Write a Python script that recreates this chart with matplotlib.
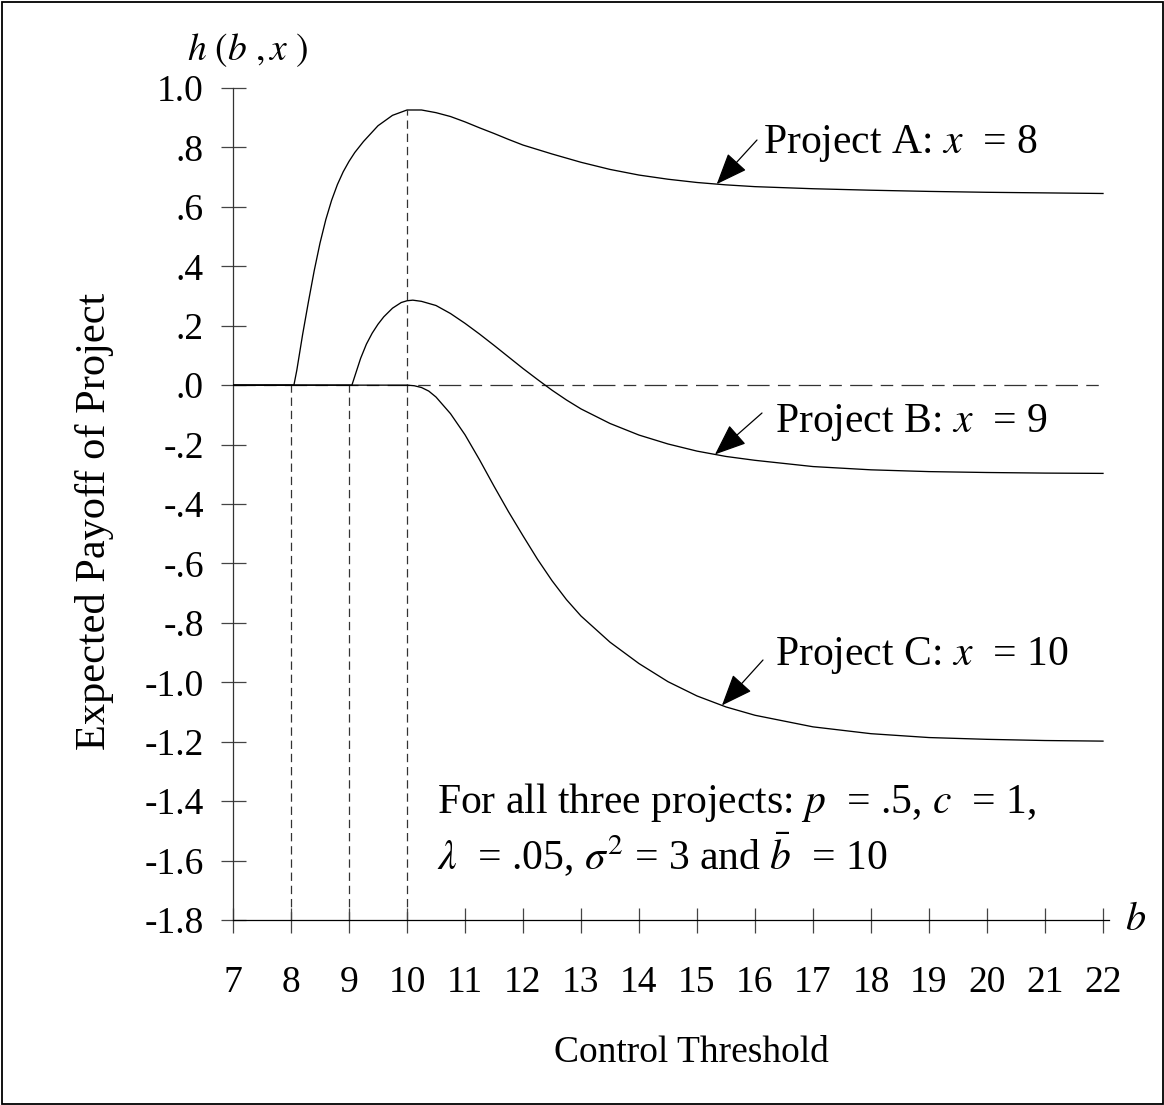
import matplotlib
matplotlib.use("Agg")
import matplotlib.pyplot as plt
import numpy as np
from matplotlib.patches import Rectangle

plt.rcParams['font.family'] = ['Liberation Serif', 'DejaVu Serif']
plt.rcParams['mathtext.fontset'] = 'stix'
plt.rcParams['lines.scale_dashes'] = False

# ---------------- data ----------------
b_A = [7, 8.05, 8.1, 8.2, 8.3, 8.4, 8.5, 8.6, 8.7, 8.8, 8.9, 9.0, 9.1, 9.25, 9.5, 9.75,
       10.0, 10.25, 10.5, 10.75, 11.0, 11.25, 11.5, 11.75, 12.0, 12.5, 13.0, 13.5,
       14.0, 14.5, 15.0, 15.5, 16, 17, 18, 19, 20, 21, 22]
h_A = [0, 0, 0.05, 0.17, 0.28, 0.385, 0.478, 0.557, 0.622, 0.675, 0.718, 0.753, 0.783,
       0.82, 0.873, 0.908, 0.926, 0.926, 0.917, 0.904, 0.886, 0.866, 0.847, 0.827,
       0.808, 0.778, 0.750, 0.726, 0.707, 0.693, 0.682, 0.674, 0.668, 0.661, 0.656,
       0.652, 0.649, 0.647, 0.645]

b_B = [7, 9.05, 9.1, 9.2, 9.3, 9.4, 9.5, 9.6, 9.75, 9.9, 10.0, 10.1, 10.25, 10.5,
       10.75, 11.0, 11.25, 11.5, 11.75, 12.0, 12.25, 12.5, 12.75, 13.0, 13.5, 14.0,
       14.5, 15.0, 15.5, 16, 17, 18, 19, 20, 21, 22]
h_B = [0, 0, 0.03, 0.09, 0.138, 0.175, 0.205, 0.23, 0.259, 0.278, 0.284, 0.286, 0.282,
       0.268, 0.241, 0.208, 0.172, 0.134, 0.095, 0.056, 0.019, -0.017, -0.050, -0.080,
       -0.129, -0.168, -0.198, -0.222, -0.240, -0.253, -0.274, -0.285, -0.291, -0.294,
       -0.296, -0.297]

b_C = [7, 10.0, 10.125, 10.25, 10.375, 10.5, 10.75, 11.0, 11.25, 11.5, 11.75, 12.0,
       12.25, 12.5, 12.75, 13.0, 13.5, 14.0, 14.5, 15.0, 15.5, 16, 17, 18, 19, 20, 21, 22]
h_C = [0, 0, -0.002, -0.008, -0.020, -0.040, -0.096, -0.167, -0.251, -0.340, -0.426,
       -0.507, -0.586, -0.658, -0.722, -0.777, -0.865, -0.937, -0.998, -1.046, -1.083,
       -1.111, -1.150, -1.173, -1.186, -1.192, -1.196, -1.198]

x_ticks = list(range(7, 23))
y_ticks = [1.0, 0.8, 0.6, 0.4, 0.2, 0.0, -0.2, -0.4, -0.6, -0.8, -1.0, -1.2, -1.4, -1.6, -1.8]
y_tick_labels = ["1.0", ".8", ".6", ".4", ".2", ".0", "-.2", "-.4", "-.6", "-.8",
                 "-1.0", "-1.2", "-1.4", "-1.6", "-1.8"]
drop_lines_b = [8, 9, 10]
labels = ["Project A: $x$  = 8", "Project B: $x$  = 9", "Project C: $x$  = 10"]
arrow_tip_b = [15.34, 15.31, 15.43]

# ---------------- layout helpers ----------------
W, H = 1164, 1105
def fx(px):
    return px / W
def fy(py):
    return 1 - py / H

fig = plt.figure(figsize=(W / 100, H / 100), dpi=100)
fig.patch.set_facecolor('white')
fig.add_artist(Rectangle((1.5 / W, 1.5 / H), 1 - 3 / W, 1 - 3 / H,
                         transform=fig.transFigure, fill=False, lw=1.3, ec='black'))

ax = fig.add_axes([fx(233), fy(920), 875.8 / W, 832 / H])
ax.set_xlim(7, 22.1)
ax.set_ylim(-1.8, 1.0)
for s in ['top', 'right']:
    ax.spines[s].set_visible(False)
ax.spines['left'].set_linewidth(0.9)
ax.spines['bottom'].set_linewidth(0.9)
ax.spines['left'].set_color('#333333')

ax.set_xticks(x_ticks)
ax.set_xticklabels([str(v) for v in x_ticks])
ax.set_yticks(y_ticks)
ax.set_yticklabels(y_tick_labels)
ax.tick_params(axis='both', direction='inout', length=18, width=0.9, color='#444444',
               labelsize=27)
ax.tick_params(axis='x', pad=24)
ax.tick_params(axis='y', pad=12)

# zero reference line
ax.hlines(0, x_ticks[0], x_ticks[-1], colors='#333333', lw=0.9,
          linestyles=[(0, (16, 6, 9, 6))], zorder=1)
# vertical dashed drop lines
tops = [0, 0, max(h_A)]
for bx, top in zip(drop_lines_b, tops):
    ax.vlines(bx, y_ticks[-1], top, colors='#333333', lw=0.9,
              linestyles=[(0, (6, 3.5))], zorder=1)

# curves
for bb, hh in [(b_A, h_A), (b_B, h_B), (b_C, h_C)]:
    ax.plot(bb, hh, color='black', lw=0.95, zorder=3, solid_joinstyle='round')

# annotations
text_px = [(763, 153), (775, 432), (775, 665)]
arrow_start_px = [(757, 140), (762, 413), (763, 660)]
for lab, (tx, ty), (sx, sy), tb, (bb, hh) in zip(labels, text_px, arrow_start_px,
                                                   arrow_tip_b,
                                                   [(b_A, h_A), (b_B, h_B), (b_C, h_C)]):
    fig.text(fx(tx), fy(ty), lab, fontsize=30, ha='left', va='baseline')
    ty_data = float(np.interp(tb, bb, hh))
    ax.annotate('', xy=(tb, ty_data), xycoords='data',
                xytext=(fx(sx), fy(sy)), textcoords='figure fraction',
                arrowprops=dict(arrowstyle='-|>,head_length=0.55,head_width=0.22',
                                mutation_scale=36, lw=0.9, color='black',
                                shrinkA=0, shrinkB=0))

# parameter text
fig.text(fx(437), fy(813), "For all three projects: $p$  = .5, $c$  = 1,",
         fontsize=30, ha='left', va='baseline')
fig.text(fx(437), fy(870), r"$\lambda$  = .05, $\sigma^2$ = 3 and $\bar{b}$  = 10",
         fontsize=30, ha='left', va='baseline')

# axis labels
fig.text(fx(187), fy(60), r"$h\ (b\ ,x\ )$", fontsize=27, ha='left', va='baseline')
fig.text(fx(1125), fy(930), r"$b$", fontsize=29, ha='left', va='baseline')
fig.text(fx(691), fy(1053), "Control Threshold", fontsize=27, ha='center', va='center')
fig.text(fx(95), fy(521), "Expected Payoff of Project", fontsize=30.5, ha='center',
         va='center', rotation=90)

fig.savefig("out.png", dpi=100, facecolor='white')
